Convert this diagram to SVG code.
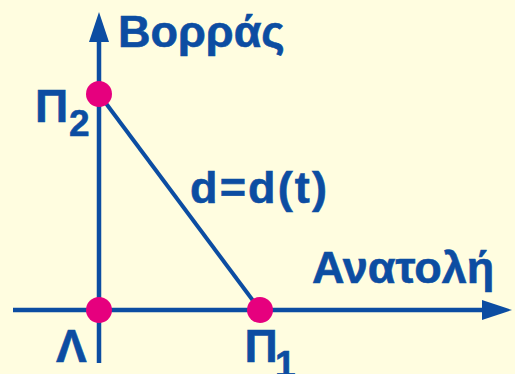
<svg xmlns="http://www.w3.org/2000/svg" width="515" height="374" viewBox="0 0 515 374">
<style>
.ax{stroke:#0C4DA2;stroke-width:4.5;fill:none}
.ln{stroke:#0C4DA2;stroke-width:4;fill:none}
.ah{fill:#0C4DA2}
.dot{fill:#E6007E}
text{font-family:"Liberation Sans",Arial,sans-serif;font-weight:bold;fill:#0C4DA2;stroke:#0C4DA2;stroke-width:0.6}
.big{font-size:45px}
.lab{font-size:46px}
.sub{font-size:37px}
</style>
<rect width="515" height="374" fill="#FFFDE0"/>
<g id="connectors">
<line class="ax" x1="99" y1="363" x2="99" y2="40"/>
<polygon class="ah" points="99,12 89,42 109,42"/>
<line class="ax" x1="13" y1="310" x2="484" y2="310"/>
<polygon class="ah" points="512,310 482,300 482,320"/>
<line class="ln" x1="99" y1="94" x2="260" y2="310"/>
</g>
<g id="north"><text class="big" x="118" y="47">Βορράς</text></g>
<g id="east"><text class="big" x="312" y="283">Ανατολή</text></g>
<g id="distance"><text class="big" x="190" y="203" textLength="137" lengthAdjust="spacing">d=d(t)</text></g>
<g id="P2">
<circle class="dot" cx="99" cy="94" r="13"/>
<text class="lab" x="35" y="122">Π</text><text class="sub" x="69" y="136">2</text>
</g>
<g id="L">
<circle class="dot" cx="99" cy="310" r="13"/>
<text class="lab" x="56" y="362">Λ</text>
</g>
<g id="P1">
<circle class="dot" cx="260" cy="310" r="13"/>
<text class="lab" x="244.5" y="362">Π</text><text class="sub" x="275" y="377">1</text>
</g>
</svg>
